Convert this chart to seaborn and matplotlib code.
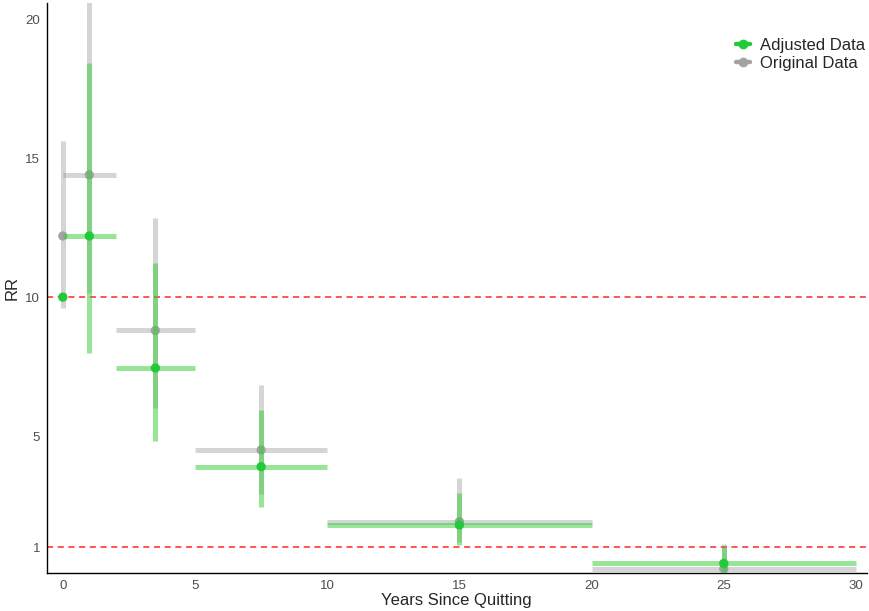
import numpy as np
import pandas as pd
import seaborn as sns
import matplotlib.pyplot as plt
from matplotlib.lines import Line2D

# values
years = [0, 1, 3.5, 7.5, 15, 25]

orig_rr = [12.2, 14.4, 8.8, 4.5, 1.92, 0.22]
orig_lo = [9.6, 10.15, 6.0, 2.9, 1.2, 0.0]
orig_hi = [15.6, 22.0, 12.85, 6.85, 3.5, 1.1]
orig_xlo = [np.nan, 0, 2, 5, 10, 20]
orig_xhi = [np.nan, 2, 5, 10, 20, 30]

adj_rr = [10.0, 12.2, 7.45, 3.9, 1.8, 0.42]
adj_lo = [np.nan, 8.0, 4.83, 2.46, 1.08, 0.0]
adj_hi = [np.nan, 18.42, 11.22, 5.94, 2.94, 1.01]
adj_xlo = [np.nan, 0, 2, 5, 10, 20]
adj_xhi = [np.nan, 2, 5, 10, 20, 30]

ref_lines = [1, 10]

orig = pd.DataFrame({'years': years, 'rr': orig_rr, 'lo': orig_lo, 'hi': orig_hi,
                     'xlo': orig_xlo, 'xhi': orig_xhi})
adj = pd.DataFrame({'years': years, 'rr': adj_rr, 'lo': adj_lo, 'hi': adj_hi,
                    'xlo': adj_xlo, 'xhi': adj_xhi})

sns.set_style('white')
plt.rcParams['font.family'] = ['Liberation Sans', 'DejaVu Sans']

fig = plt.figure(figsize=(8.7, 6.11), dpi=100)
ax = fig.add_axes([0.054, 0.062, 0.942, 0.933])

green_pt = '#22c93a'
green_bar = '#32cd32'
grey_pt = '#a3a3a3'
grey_bar = '#808080'
lw = 3.6

for y in ref_lines:
    ax.axhline(y, color='red', linestyle=(0, (4, 3)), linewidth=1.1, alpha=0.85, zorder=1)

# original data
v = orig.dropna(subset=['lo', 'hi'])
ax.vlines(v['years'], v['lo'], v['hi'], color=grey_bar, alpha=0.33, linewidth=lw, zorder=2)
h = orig.dropna(subset=['xlo', 'xhi'])
ax.hlines(h['rr'], h['xlo'], h['xhi'], color=grey_bar, alpha=0.33, linewidth=lw, zorder=2)
sns.scatterplot(data=orig, x='years', y='rr', color=grey_pt, s=45, edgecolor='none',
                ax=ax, zorder=3)

# adjusted data
v = adj.dropna(subset=['lo', 'hi'])
ax.vlines(v['years'], v['lo'], v['hi'], color=green_bar, alpha=0.5, linewidth=lw, zorder=4)
h = adj.dropna(subset=['xlo', 'xhi'])
ax.hlines(h['rr'], h['xlo'], h['xhi'], color=green_bar, alpha=0.5, linewidth=lw, zorder=4)
sns.scatterplot(data=adj, x='years', y='rr', color=green_pt, s=45, edgecolor='none',
                ax=ax, zorder=5)

ax.set_xlim(-0.6, 30.4)
ax.set_ylim(0.07, 20.58)
ax.set_xticks([0, 5, 10, 15, 20, 25, 30])
ax.set_yticks([1, 5, 10, 15, 20])
ax.tick_params(axis='both', labelsize=9.5, labelcolor='#4d4d4d', length=3, width=0.8,
               color='#333333', pad=2)
ax.set_xlabel('Years Since Quitting', fontsize=12, labelpad=1)
ax.set_ylabel('RR', fontsize=12, labelpad=4)

sns.despine(ax=ax)
for side in ['left', 'bottom']:
    ax.spines[side].set_color('black')
    ax.spines[side].set_linewidth(1.0)

handles = [Line2D([], [], color=green_pt, marker='o', markersize=6, linewidth=3.2),
           Line2D([], [], color=grey_pt, marker='o', markersize=6, linewidth=3.2)]
ax.legend(handles, ['Adjusted Data', 'Original Data'], loc='upper right',
          bbox_to_anchor=(1.016, 0.965), frameon=False, fontsize=12, handlelength=0.8,
          handletextpad=0.6, labelspacing=0.15)

fig.savefig('out.png', dpi=100)
